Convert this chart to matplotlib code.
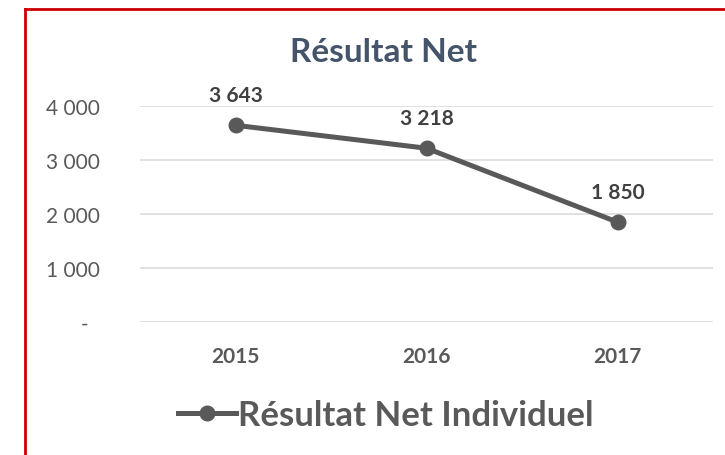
import matplotlib.pyplot as plt
from matplotlib.lines import Line2D

plt.rcParams['font.family'] = ['Lato', 'DejaVu Sans']

years = ['2015', '2016', '2017']
resultat = [3643, 3218, 1850]
labels = ['3 643', '3 218', '1 850']
yticks = [0, 1000, 2000, 3000, 4000]
ytick_labels = ['-  ', '1 000', '2 000', '3 000', '4 000']

W, H = 725, 456
fig = plt.figure(figsize=(W / 100, H / 100), dpi=100)
ax = fig.add_axes([140 / W, 1 - 323 / H, 573 / W, 216 / H])

x = range(len(years))
ax.plot(x, resultat, color='#595959', lw=3.6, marker='o', ms=10.5,
        label='Résultat Net Individuel', clip_on=False, zorder=3)
for i, v in enumerate(resultat):
    ax.annotate(labels[i], (i, v), xytext=(0, 22), textcoords='offset points',
                ha='center', va='center', fontsize=15, fontweight='bold',
                color='#404040')

ax.set_xlim(-0.5, 2.5)
ax.set_ylim(0, 4000)
ax.set_yticks(yticks)
ax.set_yticklabels(ytick_labels)
ax.set_xticks(list(x))
ax.set_xticklabels(years, fontweight='bold')
ax.tick_params(axis='y', length=0, pad=29, labelsize=15, labelcolor='#595959')
ax.tick_params(axis='x', length=0, pad=17, labelsize=15, labelcolor='#595959')
ax.grid(axis='y', color='#D9D9D9', lw=1.1)
ax.set_axisbelow(True)
for s in ax.spines.values():
    s.set_visible(False)

fig.text(383 / W, 1 - 53 / H, 'Résultat Net', ha='center', va='center',
         fontsize=24, fontweight='bold', color='#44546A')

leg = ax.legend(loc='center', bbox_to_anchor=(386 / W, 1 - 416 / H),
                bbox_transform=fig.transFigure, frameon=False,
                prop={'size': 25, 'weight': 'bold'}, handlelength=1.65,
                handletextpad=0.08, labelcolor='#595959')
for t in leg.get_texts():
    t.set_fontweight('bold')

# red frame of the chart
fig.add_artist(Line2D([25 / W, 1], [1 - 10 / H, 1 - 10 / H], color='#CC0000', lw=2))
fig.add_artist(Line2D([25 / W, 25 / W], [0, 1 - 10 / H], color='#CC0000', lw=2))

fig.savefig('out.png', dpi=100)
